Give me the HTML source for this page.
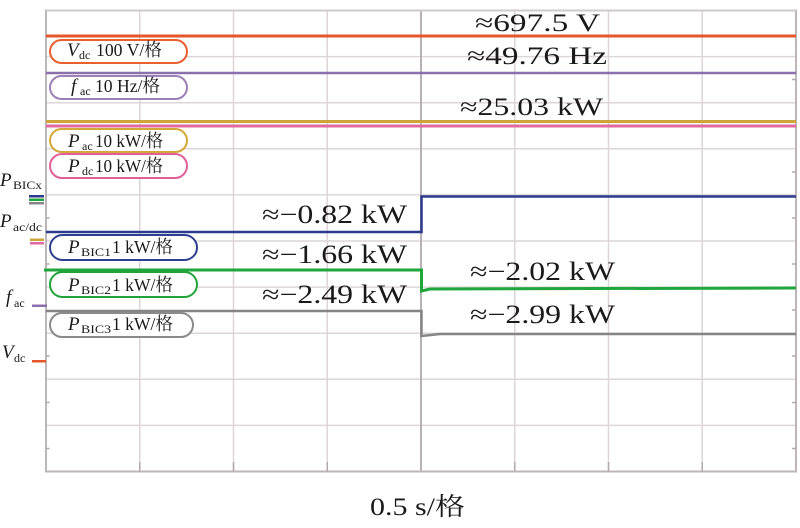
<!DOCTYPE html>
<html><head><meta charset="utf-8">
<style>
html,body{margin:0;padding:0;background:#fff;}
svg{display:block;}
text{font-family:"Liberation Serif","Noto Serif CJK SC",serif;fill:#1a1a1a;}
.it{font-style:italic;}
</style></head><body>
<svg width="800" height="528" viewBox="0 0 800 528" xmlns="http://www.w3.org/2000/svg">
<!-- grid -->
<g stroke="#dcd6d8" stroke-width="1.5" fill="none">
<line x1="139.75" y1="10.5" x2="139.75" y2="471.5"/>
<line x1="233.5" y1="10.5" x2="233.5" y2="471.5"/>
<line x1="327.25" y1="10.5" x2="327.25" y2="471.5"/>
<line x1="514.75" y1="10.5" x2="514.75" y2="471.5"/>
<line x1="608.5" y1="10.5" x2="608.5" y2="471.5"/>
<line x1="702.25" y1="10.5" x2="702.25" y2="471.5"/>
<line x1="46" y1="56.6" x2="796" y2="56.6"/>
<line x1="46" y1="102.7" x2="796" y2="102.7"/>
<line x1="46" y1="148.8" x2="796" y2="148.8"/>
<line x1="46" y1="194.9" x2="796" y2="194.9"/>
<line x1="46" y1="241" x2="796" y2="241"/>
<line x1="46" y1="287.1" x2="796" y2="287.1"/>
<line x1="46" y1="333.2" x2="796" y2="333.2"/>
<line x1="46" y1="379.3" x2="796" y2="379.3"/>
<line x1="46" y1="425.4" x2="796" y2="425.4"/>
</g>
<line x1="421" y1="10.5" x2="421" y2="471.5" stroke="#b8b1b4" stroke-width="2"/>
<!-- border -->
<rect x="46" y="10.5" width="750" height="461" fill="none" stroke="#bdb6b9" stroke-width="2"/>
<line x1="46" y1="10.5" x2="796" y2="10.5" stroke="#d0cacc" stroke-width="2"/>
<!-- ticks -->
<g stroke="#b0a9ac" stroke-width="1.5">
<line x1="139.75" y1="462" x2="139.75" y2="471.5"/>
<line x1="233.5" y1="462" x2="233.5" y2="471.5"/>
<line x1="327.25" y1="462" x2="327.25" y2="471.5"/>
<line x1="514.75" y1="462" x2="514.75" y2="471.5"/>
<line x1="608.5" y1="462" x2="608.5" y2="471.5"/>
<line x1="702.25" y1="462" x2="702.25" y2="471.5"/>
<line x1="46" y1="264" x2="49.5" y2="264"/>
<line x1="46" y1="356" x2="49.5" y2="356"/>
<line x1="46" y1="402.5" x2="49.5" y2="402.5"/>
<line x1="46" y1="448.5" x2="49.5" y2="448.5"/>
<line x1="46" y1="218" x2="49.5" y2="218"/>
<line x1="792" y1="79.5" x2="796" y2="79.5"/>
<line x1="792" y1="172" x2="796" y2="172"/>
<line x1="792" y1="218" x2="796" y2="218"/>
<line x1="792" y1="264" x2="796" y2="264"/>
<line x1="792" y1="310" x2="796" y2="310"/>
<line x1="792" y1="356" x2="796" y2="356"/>
<line x1="792" y1="402.5" x2="796" y2="402.5"/>
<line x1="792" y1="448.5" x2="796" y2="448.5"/>
</g>
<!-- traces -->
<line x1="46" y1="36" x2="796" y2="36" stroke="#e5572b" stroke-width="3"/>
<line x1="46" y1="73" x2="796" y2="73" stroke="#8c70ae" stroke-width="2.5"/>
<line x1="46" y1="121.5" x2="796" y2="121.5" stroke="#cda43a" stroke-width="3"/>
<line x1="46" y1="126" x2="796" y2="126" stroke="#e06aa0" stroke-width="3"/>
<polyline points="46,232 421.5,232 421.5,196.5 796,196.5" fill="none" stroke="#2b3a8c" stroke-width="2.5"/>
<polyline points="44,270 421.5,270 421.5,291 430,289 796,288" fill="none" stroke="#1fa63c" stroke-width="3"/>
<polyline points="46,311 421.5,311 421.5,336 440,334 796,334" fill="none" stroke="#858585" stroke-width="2.5"/>
<!-- label boxes -->
<g fill="#fff" stroke-width="2">
<rect x="50" y="40" width="137" height="23" rx="11.5" stroke="#e8602f"/>
<rect x="50" y="76" width="137" height="23" rx="11.5" stroke="#9b7fb8"/>
<rect x="50" y="129" width="137" height="23" rx="11.5" stroke="#d4a838"/>
<rect x="50" y="154" width="137" height="24" rx="12" stroke="#e0609a"/>
<rect x="50" y="235" width="147" height="25" rx="12.5" stroke="#2e3f90"/>
<rect x="50" y="272" width="147" height="25" rx="12.5" stroke="#21a33a"/>
<rect x="50" y="313" width="143" height="24" rx="12" stroke="#8a8a8a"/>
</g>
<!-- box texts -->
<text x="67" y="56" font-size="19" class="it">V</text>
<text x="79" y="59" font-size="12">dc</text>
<text x="96" y="56" font-size="18" textLength="66" lengthAdjust="spacingAndGlyphs">100 V/格</text>

<text x="71" y="92" font-size="19" class="it">f</text>
<text x="80" y="95" font-size="12">ac</text>
<text x="95" y="92" font-size="18" textLength="65" lengthAdjust="spacingAndGlyphs">10 Hz/格</text>

<text x="68" y="147" font-size="19" class="it">P</text>
<text x="82" y="150" font-size="12">ac</text>
<text x="95" y="147" font-size="18" textLength="68" lengthAdjust="spacingAndGlyphs">10 kW/格</text>

<text x="68" y="172" font-size="19" class="it">P</text>
<text x="82" y="175" font-size="12">dc</text>
<text x="95" y="172" font-size="18" textLength="68" lengthAdjust="spacingAndGlyphs">10 kW/格</text>

<text x="68" y="253" font-size="19" class="it">P</text>
<text x="81" y="256" font-size="12" textLength="30" lengthAdjust="spacingAndGlyphs">BIC1</text>
<text x="112" y="253" font-size="18" textLength="61" lengthAdjust="spacingAndGlyphs">1 kW/格</text>

<text x="68" y="291" font-size="19" class="it">P</text>
<text x="81" y="294" font-size="12" textLength="30" lengthAdjust="spacingAndGlyphs">BIC2</text>
<text x="112" y="291" font-size="18" textLength="61" lengthAdjust="spacingAndGlyphs">1 kW/格</text>

<text x="68" y="330" font-size="19" class="it">P</text>
<text x="81" y="333" font-size="12" textLength="30" lengthAdjust="spacingAndGlyphs">BIC3</text>
<text x="112" y="330" font-size="18" textLength="61" lengthAdjust="spacingAndGlyphs">1 kW/格</text>

<!-- left axis labels -->
<text x="0" y="186" font-size="19" class="it">P</text>
<text x="13" y="189" font-size="12" textLength="29" lengthAdjust="spacingAndGlyphs">BICx</text>
<rect x="29" y="195" width="15" height="2.5" fill="#2b3a8c"/>
<rect x="29" y="198.5" width="15" height="2.5" fill="#1fa63c"/>
<rect x="29" y="202" width="15" height="2.5" fill="#858585"/>

<text x="0" y="227" font-size="19" class="it">P</text>
<text x="13" y="231" font-size="12" textLength="29" lengthAdjust="spacingAndGlyphs">ac/dc</text>
<rect x="30" y="238.5" width="14" height="2.5" fill="#cda43a"/>
<rect x="30" y="242" width="14" height="2.5" fill="#e06aa0"/>

<text x="6" y="303" font-size="19" class="it">f</text>
<text x="14" y="307" font-size="12">ac</text>
<rect x="32" y="304.5" width="15" height="2.5" fill="#8c70ae"/>

<text x="2" y="358" font-size="19" class="it">V</text>
<text x="14" y="362" font-size="12">dc</text>
<rect x="32" y="360" width="14" height="2.5" fill="#e5572b"/>

<!-- value annotations -->
<text x="475" y="31" font-size="25" textLength="125" lengthAdjust="spacingAndGlyphs">≈697.5 V</text>
<text x="467" y="64" font-size="25" textLength="140" lengthAdjust="spacingAndGlyphs">≈49.76 Hz</text>
<text x="460" y="115" font-size="25" textLength="143" lengthAdjust="spacingAndGlyphs">≈25.03 kW</text>
<text x="262" y="223" font-size="26" textLength="145" lengthAdjust="spacingAndGlyphs">≈−0.82 kW</text>
<text x="262" y="263" font-size="26" textLength="145" lengthAdjust="spacingAndGlyphs">≈−1.66 kW</text>
<text x="262" y="303" font-size="26" textLength="145" lengthAdjust="spacingAndGlyphs">≈−2.49 kW</text>
<text x="470" y="280" font-size="26" textLength="145" lengthAdjust="spacingAndGlyphs">≈−2.02 kW</text>
<text x="470" y="323" font-size="26" textLength="145" lengthAdjust="spacingAndGlyphs">≈−2.99 kW</text>

<text x="370" y="515" font-size="25" textLength="95" lengthAdjust="spacingAndGlyphs">0.5 s/格</text>
</svg>
</body></html>
